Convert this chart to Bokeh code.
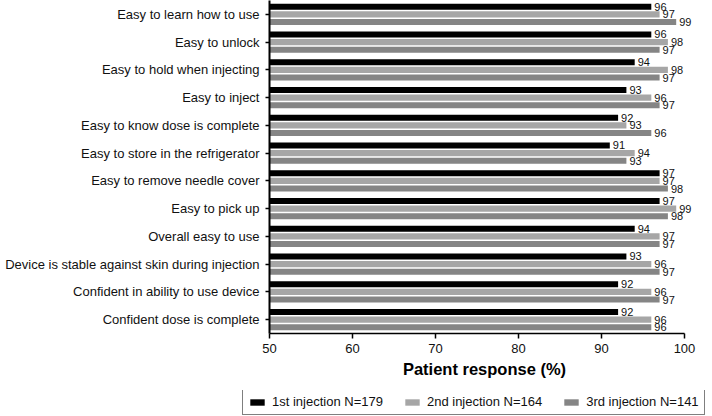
from bokeh.plotting import figure
from bokeh.models import FactorRange, Range1d, ColumnDataSource, Legend, LegendItem, SingleIntervalTicker
from bokeh.transform import dodge
from bokeh.core.properties import value
from bokeh.layouts import column, row
from bokeh.embed import file_html
from bokeh.resources import INLINE

categories = [
    "Easy to learn how to use",
    "Easy to unlock",
    "Easy to hold when injecting",
    "Easy to inject",
    "Easy to know dose is complete",
    "Easy to store in the refrigerator",
    "Easy to remove needle cover",
    "Easy to pick up",
    "Overall easy to use",
    "Device is stable against skin during injection",
    "Confident in ability to use device",
    "Confident dose is complete",
]
first = [96, 96, 94, 93, 92, 91, 97, 97, 94, 93, 92, 92]
second = [97, 98, 98, 96, 93, 94, 97, 99, 97, 96, 96, 96]
third = [99, 97, 97, 97, 96, 93, 98, 98, 97, 97, 97, 96]
series_names = ["1st injection N=179", "2nd injection N=164", "3rd injection N=141"]
colors = ["#000000", "#a6a6a6", "#858585"]

FONT = "Liberation Sans"

src = ColumnDataSource(dict(
    cat=categories, s1=first, s2=second, s3=third,
    t1=[str(v) for v in first], t2=[str(v) for v in second], t3=[str(v) for v in third],
))

AXIS_PX = 415
FRAME_W = 430
x_end = 50 + 50 * FRAME_W / AXIS_PX

p = figure(
    y_range=FactorRange(factors=list(reversed(categories)), range_padding=0),
    x_range=Range1d(50, x_end),
    frame_width=FRAME_W, frame_height=333,
    min_border_left=269, min_border_right=0, min_border_top=0, min_border_bottom=57,
    output_backend="svg", toolbar_location=None,
)

offsets = [0.275, 0.0, -0.275]
for key, off, col in zip(["s1", "s2", "s3"], offsets, colors):
    p.hbar(y=dodge("cat", off, range=p.y_range), left=50, right=key, height=0.22,
           source=src, fill_color=col, line_color=None)

for key, off in zip(["1", "2", "3"], offsets):
    p.text(x="s" + key, y=dodge("cat", off, range=p.y_range), text="t" + key, source=src,
           x_offset=3, text_baseline="middle", text_align="left",
           text_font=value(FONT), text_font_size="11px", text_color="#111111")

p.outline_line_color = None
p.xgrid.visible = False
p.ygrid.visible = False

xa = p.xaxis[0]
xa.bounds = (50, 100)
xa.ticker = SingleIntervalTicker(interval=10, num_minor_ticks=0)
xa.axis_label = "Patient response (%)"
xa.axis_label_text_font = FONT
xa.axis_label_text_font_style = "bold"
xa.axis_label_text_font_size = "16.5px"
xa.axis_label_text_color = "black"
xa.axis_label_standoff = 4
xa.major_label_text_font = FONT
xa.major_label_text_font_size = "13px"
xa.major_label_text_color = "#111111"
xa.major_label_standoff = 5
xa.major_tick_out = 5
xa.major_tick_in = 0
xa.minor_tick_out = 0
xa.minor_tick_in = 0
xa.axis_line_width = 1.5
xa.major_tick_line_width = 1.5
xa.axis_line_color = "black"
xa.major_tick_line_color = "black"

ya = p.yaxis[0]
ya.major_label_text_font = FONT
ya.major_label_text_font_size = "13px"
ya.major_label_text_color = "#111111"
ya.major_label_standoff = 6
ya.major_tick_out = 4
ya.major_tick_in = 0
ya.axis_line_width = 2
ya.major_tick_line_width = 1.5
ya.axis_line_color = "black"
ya.major_tick_line_color = "black"

# legend strip below the chart (swatch renderers sit outside the strip's visible ranges)
lg = figure(
    width=708, height=26, x_range=Range1d(0, 1), y_range=Range1d(0, 1),
    min_border_left=0, min_border_right=0, min_border_top=0, min_border_bottom=0,
    output_backend="svg", toolbar_location=None,
)
lg.axis.visible = False
lg.grid.visible = False
lg.outline_line_color = None
swatches = []
for col in colors:
    swatches.append(lg.hbar(y=[-9], left=[-9], right=[-8], height=0.5, fill_color=col, line_color=None))

legend = Legend(
    items=[LegendItem(label=n, renderers=[r]) for n, r in zip(series_names, swatches)],
    orientation="horizontal", location=(242, 1),
    label_text_font=FONT, label_text_font_size="13px", label_text_color="#111111",
    glyph_width=18, glyph_height=8, label_standoff=6, spacing=20, padding=5,
    label_height=13, margin=0,
    border_line_color="black", border_line_width=1,
    background_fill_alpha=0,
)
lg.add_layout(legend, "center")

layout = column(p, row(lg), spacing=0)
open("out.html", "w").write(file_html(layout, INLINE))
